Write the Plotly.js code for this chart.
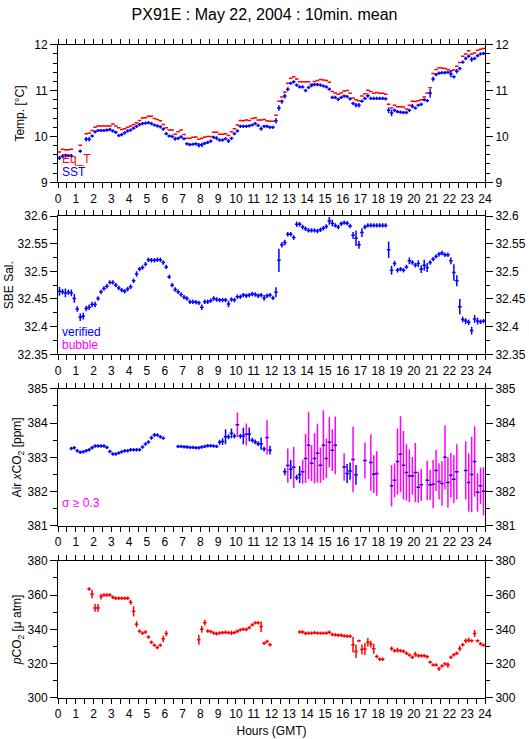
<!DOCTYPE html>
<html><head><meta charset="utf-8">
<script src="https://cdn.plot.ly/plotly-3.0.1.min.js"></script>
<style>html,body{margin:0;padding:0;background:#fff;}#chart{width:529px;height:739px;}</style>
</head><body><div id="chart"></div>
<script>
// ---- 10-minute means, 144 bins per day (value per bin, null = no data) ----
const sst = [
9.53,9.57,9.58,9.58,9.58,null,null,9.68,null,9.94,
9.94,10.01,10.1,10.13,10.13,10.13,10.14,10.15,10.12,10.09,
10.02,10.04,10.08,10.12,10.14,10.18,10.22,10.26,10.28,10.29,
10.3,10.28,10.25,10.23,10.21,10.16,10.06,10.01,10.0,9.95,
9.96,9.99,9.95,9.84,9.82,9.83,9.84,9.81,9.82,9.85,
9.87,9.9,9.98,9.96,9.92,9.92,9.95,9.9,9.96,10.06,
10.12,10.22,10.22,10.22,10.23,10.25,10.28,10.24,10.17,10.22,
10.22,10.2,10.2,10.34,10.62,10.76,10.88,11.03,11.16,11.19,
11.12,11.08,11.08,11.0,11.07,11.11,11.13,11.13,11.12,11.1,
11.08,11.03,10.85,10.85,10.81,10.85,10.88,10.87,10.82,10.72,
10.68,10.68,10.77,10.83,10.89,10.83,10.83,10.83,10.83,10.83,
10.82,10.57,10.51,10.57,10.54,10.53,10.52,10.52,10.57,10.66,
10.62,10.68,10.7,10.8,10.78,10.94,11.25,11.35,11.38,11.39,
11.39,11.4,11.36,11.3,11.42,11.48,11.62,11.7,11.75,11.68,
11.7,11.76,11.8,11.81];
const sstErr = [
.045,.035,.045,.035,.035,null,null,.035,null,.05,
.05,.035,.035,.035,.035,.035,.035,.035,.035,.035,
.035,.035,.035,.035,.035,.035,.035,.035,.035,.035,
.035,.035,.035,.035,.035,.035,.035,.035,.035,.045,
.035,.035,.035,.035,.035,.035,.035,.05,.05,.035,
.035,.035,.035,.045,.035,.035,.035,.045,.035,.035,
.035,.035,.035,.035,.035,.035,.035,.035,.045,.035,
.035,.035,.035,.06,.06,.045,.05,.045,.035,.035,
.035,.035,.035,.035,.035,.035,.035,.035,.035,.035,
.035,.035,.035,.035,.035,.035,.035,.035,.035,.035,
.05,.05,.035,.035,.045,.035,.035,.035,.035,.035,
.035,.06,.07,.035,.035,.035,.035,.035,.035,.045,
.035,.035,.035,.035,.035,.09,.05,.035,.035,.035,
.035,.035,.07,.035,.05,.035,.035,.035,.035,.05,
.035,.035,.035,.035];
const eqT = [
9.66,9.72,9.71,9.71,9.72,null,null,9.81,null,10.06,
10.07,10.13,10.2,10.23,10.23,10.23,10.23,10.23,10.27,10.23,
10.19,10.15,10.17,10.2,10.23,10.26,10.3,10.35,10.4,10.41,
10.44,10.44,10.39,10.37,10.34,10.26,10.19,10.14,10.14,10.05,
10.1,10.14,10.04,9.96,9.96,9.98,9.99,9.94,9.96,9.99,
10.0,10.0,10.09,10.09,10.05,10.05,10.06,10.02,10.1,10.17,
10.25,10.35,10.34,10.36,10.35,10.39,10.41,10.36,10.36,10.37,
10.34,10.33,10.33,10.46,10.77,10.86,10.97,11.16,11.27,11.3,
11.25,11.19,11.19,11.19,11.19,11.14,11.2,11.22,11.24,11.23,
11.22,11.18,10.98,10.95,10.92,10.95,10.99,11.0,10.94,10.84,
10.8,10.78,10.88,10.93,11.01,10.98,10.94,10.96,10.94,10.94,
10.92,10.7,10.62,10.68,10.65,10.65,10.64,10.6,10.68,10.77,
10.76,10.78,10.8,10.86,10.95,11.06,11.37,11.46,11.5,11.49,
11.48,11.46,11.43,11.45,11.53,11.61,11.75,11.8,11.87,11.8,
11.82,11.88,11.9,11.92];
const sal = [
32.464,32.463,32.461,32.462,32.461,32.451,32.432,32.417,32.419,32.433,
32.435,32.44,32.44,32.451,32.463,32.469,32.473,32.48,32.48,32.475,
32.47,32.466,32.464,32.468,32.472,32.483,32.495,32.504,32.507,32.513,
32.521,32.52,32.52,32.521,32.521,32.516,32.508,32.49,32.475,32.467,
32.463,32.458,32.453,32.451,32.445,32.445,32.444,32.443,32.435,32.445,
32.445,32.447,32.451,32.449,32.448,32.448,32.448,32.441,32.449,32.448,
32.454,32.454,32.457,32.456,32.457,32.459,32.458,32.456,32.457,32.452,
32.456,32.457,32.452,32.462,32.52,32.548,32.552,32.567,32.567,32.561,
32.585,32.585,32.58,32.577,32.574,32.574,32.574,32.573,32.575,32.578,
32.581,32.591,32.587,32.583,32.58,32.586,32.588,32.587,32.582,32.565,
32.56,32.548,32.57,32.58,32.583,32.583,32.583,32.583,32.583,32.583,
32.583,32.539,32.502,32.514,32.502,32.504,32.502,32.508,32.519,32.516,
32.511,32.514,32.504,32.511,32.507,32.516,32.522,32.527,32.531,32.533,
32.53,32.53,32.519,32.498,32.483,32.436,32.413,32.41,32.408,32.393,
32.414,32.41,32.409,32.41];
const salErr = [
.008,.005,.008,.005,.006,.008,.005,.007,.006,.005,
.005,.005,.005,.004,.004,.004,.004,.004,.004,.004,
.004,.004,.004,.004,.004,.004,.005,.004,.004,.004,
.004,.004,.004,.004,.004,.004,.004,.004,.004,.004,
.004,.004,.004,.004,.004,.004,.004,.004,.005,.004,
.004,.004,.004,.004,.004,.004,.004,.006,.004,.004,
.004,.004,.004,.004,.004,.004,.004,.004,.004,.005,
.004,.004,.004,.009,.021,.005,.005,.004,.004,.004,
.005,.004,.004,.004,.004,.004,.004,.004,.004,.004,
.004,.007,.006,.004,.004,.004,.004,.004,.004,.006,
.014,.007,.008,.004,.004,.004,.004,.004,.004,.004,
.004,.015,.008,.005,.004,.004,.004,.004,.006,.004,
.004,.006,.007,.01,.008,.004,.004,.004,.004,.004,
.004,.004,.006,.015,.01,.014,.005,.005,.005,.007,
.007,.006,.004,.004];
const xco2 = [
null,null,null,null,383.26,383.28,383.19,383.15,383.16,383.19,
383.22,383.28,383.33,383.33,383.33,383.33,383.29,383.17,383.1,383.1,
383.13,383.16,383.19,383.19,383.22,383.22,383.22,383.22,383.3,383.39,
383.45,383.57,383.65,383.65,383.6,383.56,null,null,null,null,
383.32,383.32,383.31,383.3,383.29,383.29,383.28,383.28,383.3,383.32,
383.34,383.34,383.33,383.32,383.44,383.46,383.6,383.6,383.7,383.62,
383.95,383.62,383.62,383.67,383.67,383.5,383.45,383.4,383.4,383.24,
383.58,383.21,null,null,null,null,382.58,382.76,382.65,382.71,
382.41,382.5,382.58,382.97,383.35,382.83,382.97,383.12,382.77,383.35,
382.97,383.44,383.21,383.35,null,null,382.72,382.53,382.6,382.94,
382.49,null,null,382.91,null,382.85,382.51,382.53,null,null,
null,null,382.17,382.33,382.88,383.09,382.77,382.56,382.46,382.46,
382.56,382.13,382.2,null,382.33,382.2,382.22,382.62,382.3,382.24,
383.0,382.27,382.48,382.36,382.58,null,null,382.62,382.27,382.5,
382.88,381.98,382.17,382.01];
const xco2Sd = [
null,null,null,null,.05,.05,.05,.05,.05,.05,
.05,.05,.05,.05,.05,.05,.05,.05,.05,.05,
.05,.05,.05,.05,.05,.05,.05,.05,.05,.05,
.05,.06,.06,.05,.05,.05,null,null,null,null,
.05,.05,.05,.05,.05,.05,.05,.05,.05,.05,
.05,.05,.05,.05,.07,.1,.22,.07,.14,.07,
.36,.07,.24,.32,.2,.07,.07,.07,.18,.07,
.5,.13,null,null,null,null,.1,.5,.28,.6,
.08,.25,.35,.72,.98,.52,.73,.86,.52,1.02,
.58,.73,.61,.84,null,null,.4,.28,.25,.96,
.29,null,null,.52,null,.82,.55,.65,null,null,
null,null,.6,.5,.96,1.11,1.0,.82,.77,.55,
.86,.45,.47,null,.57,.44,.7,.6,.53,.65,
.93,.73,.65,.7,.8,null,null,.85,.85,1.1,
1.03,.56,.53,.7];
const pco2 = [
null,null,null,null,null,null,null,null,null,null,
363.5,360.6,352.5,352.5,359.1,360,360,360,358.7,358.1,
358.1,358.1,358.1,358.1,355.8,350.5,343,338.9,337.8,338.5,
335.6,332.5,330.8,329.4,330.8,334.5,337.6,null,null,null,
null,null,null,null,null,null,null,333.9,340,343.8,
339.1,338.7,337.9,337.4,337.9,338.1,338.3,338.1,337.9,338.1,
338.9,339.7,340.1,339.9,341,342.6,343.8,343.8,341.6,331.9,
332.9,331,null,null,null,null,null,null,null,null,
null,338.5,338.5,337.6,337.8,337.8,338.1,337.8,337.8,337.8,
337.8,338.3,337,336.8,336.6,336.6,336.2,336,336,331,
327.1,333.3,328.3,328.5,332.5,331.4,328.7,324.2,322.6,322.6,
null,null,328.8,327.5,327.9,327.5,327.3,326.1,325,323.8,
325.5,324.6,324.6,324.6,324,320.9,319.3,319.3,317,318.6,
319.9,319.3,323.8,325.2,326.1,328.8,331,333.3,333.7,333.3,
337.6,333.3,331.6,330.8];
const pco2Sd = [
null,null,null,null,null,null,null,null,null,null,
1,2.5,2.3,2.3,1.7,1,1,1,1,1,
1,1,1,1,1.4,3,1.8,1,1,1,
1,1,1,1,1,1.8,1.6,null,null,null,
null,null,null,null,null,null,null,2.9,1.9,1.6,
1,1,1,1,1,1,1,1,1.4,1,
1,1,1,1,1,1,1,1,3.2,1,
1,1,null,null,null,null,null,null,null,null,
null,1,1,1,1,1,1,1,1,1,
1,1,1,1,1,1,1,1,1,4.5,
3.8,.6,2.9,3.5,2.5,2,2.9,1,1,1,
null,null,1.2,1,1.4,1,1,1,1,1,
1.4,1,1,1,1,1,1,1,1.2,1,
1,1.6,1,1,1,1.6,1,1.4,1.4,1,
2,1,1,1];
const SIGMA_LIMIT = 0.3;
const hourTicks = [0,1,2,3,4,5,6,7,8,9,10,11,12,13,14,15,16,17,18,19,20,21,22,23,24];

// bin centres of the 10-minute means
const BIN = 1/6;
const hours = sst.map((_, i) => (i + 0.5) * BIN);

const FONT = 'Liberation Sans, Arial, Helvetica, sans-serif';
const BLUE = '#0000ff', RED = '#ff0000', MAG = '#ff00ff';
const HALF = 0.1;   // half length of the horizontal arm (h)
const THICK = 1.5;

function cross(y, err, color, xa, ya) {
  return {
    type: 'scatter', mode: 'markers', x: hours, y: y, xaxis: xa, yaxis: ya,
    marker: {size: 1, color: color}, hoverinfo: 'skip', showlegend: false,
    error_x: {type: 'constant', value: HALF, color: color, thickness: THICK, width: 0},
    error_y: err ? {type: 'data', array: err, color: color, thickness: THICK, width: 0, visible: true} : {visible: false}
  };
}
// invisible copy so that the right-hand (mirror) axis is drawn
function ghost(y, xa, ya) {
  return {type: 'scatter', mode: 'markers', x: hours, y: y, xaxis: xa, yaxis: ya,
    marker: {size: 1, opacity: 0}, hoverinfo: 'skip', showlegend: false};
}

const xco2Big = xco2Sd.map(s => (s !== null && s >= SIGMA_LIMIT) ? s : 0);
const xco2Small = xco2Sd.map(s => (s !== null && s < SIGMA_LIMIT) ? s : 0);
const magTrace = {
  type: 'scatter', mode: 'markers', x: hours, y: xco2, xaxis: 'x3', yaxis: 'y3',
  marker: {size: 1, color: MAG}, hoverinfo: 'skip', showlegend: false,
  error_y: {type: 'data', array: xco2Big, color: MAG, thickness: THICK, width: 0}
};

const traces = [
  cross(eqT, null, RED, 'x', 'y'),
  cross(sst, sstErr, BLUE, 'x', 'y'),
  cross(sal, salErr, BLUE, 'x2', 'y2'),
  magTrace,
  cross(xco2, xco2Small, BLUE, 'x3', 'y3'),
  cross(pco2, pco2Sd, RED, 'x4', 'y4'),
  ghost(sst, 'x', 'y5'), ghost(sal, 'x2', 'y6'), ghost(xco2, 'x3', 'y7'), ghost(pco2, 'x4', 'y8')
];

const tickFont = {family: FONT, size: 12, color: '#000'};
function xAxis(anchor, title) {
  const a = {
    anchor: anchor, domain: [0, 1], range: [0, 24], tickvals: hourTicks, ticktext: hourTicks.map(String),
    ticks: 'outside', ticklen: 5, tickwidth: 1, tickcolor: '#000',
    minor: {dtick: 0.5, tick0: 0, ticks: 'outside', ticklen: 5, tickwidth: 1, tickcolor: '#000', showgrid: false},
    showline: true, linecolor: '#000', linewidth: 1, mirror: 'ticks',
    showgrid: false, zeroline: false, tickfont: tickFont, fixedrange: true
  };
  if (title) a.title = {text: title, font: {family: FONT, size: 12, color: '#000'}, standoff: 6};
  return a;
}
function yAxis(anchor, domain, range, dtick, minor, title) {
  return {
    anchor: anchor, domain: domain, range: range, dtick: dtick, tick0: range[0],
    ticks: 'outside', ticklen: 7, tickwidth: 1, tickcolor: '#000',
    minor: {dtick: minor, ticks: 'outside', ticklen: 4, tickwidth: 1, tickcolor: '#000', showgrid: false},
    showline: true, linecolor: '#000', linewidth: 1, mirror: true,
    showgrid: false, zeroline: false, tickfont: tickFont, fixedrange: true,
    title: {text: title, font: {family: FONT, size: 12, color: '#000'}}
  };
}
function yRight(over, anchor, range, dtick, minor) {
  return {
    overlaying: over, anchor: anchor, side: 'right', range: range, dtick: dtick, tick0: range[0],
    ticks: 'outside', ticklen: 7, tickwidth: 1, tickcolor: '#000',
    minor: {dtick: minor, ticks: 'outside', ticklen: 4, tickwidth: 1, tickcolor: '#000', showgrid: false},
    showline: false, showgrid: false, zeroline: false, tickfont: tickFont, fixedrange: true
  };
}

const D1 = [0.7885, 0.9989], D2 = [0.5255, 0.737], D3 = [0.263, 0.4729], D4 = [0, 0.2099];
const R1 = [9, 12], R2 = [32.35, 32.6], R3 = [381, 385], R4 = [300, 380];

function note(text, color, xref, yref, y) {
  return {text: text, xref: xref, yref: yref, x: 0.004, y: y, xanchor: 'left', yanchor: 'middle',
    showarrow: false, font: {family: FONT, size: 12, color: color}};
}

const layout = {
  width: 529, height: 739,
  margin: {l: 58, r: 44, t: 44, b: 41},
  paper_bgcolor: '#fff', plot_bgcolor: '#fff', showlegend: false,
  title: {text: 'PX91E : May 22, 2004 : 10min. mean', x: 0.5, xref: 'container', xanchor: 'center',
    y: 1 - 14 / 739, yref: 'container', yanchor: 'middle', font: {family: FONT, size: 16, color: '#000'}},
  xaxis: xAxis('y'), xaxis2: xAxis('y2'), xaxis3: xAxis('y3'), xaxis4: xAxis('y4', 'Hours (GMT)'),
  yaxis: yAxis('x', D1, R1, 1, 0.2, 'Temp. [°C]'),
  yaxis2: yAxis('x2', D2, R2, 0.05, 0.025, 'SBE Sal.'),
  yaxis3: yAxis('x3', D3, R3, 1, 0.5, 'Air <i>x</i>CO<sub>2</sub> [ppm]'),
  yaxis4: yAxis('x4', D4, R4, 20, 10, '<i>p</i>CO<sub>2</sub> [μ atm]'),
  yaxis5: yRight('y', 'x', R1, 1, 0.2),
  yaxis6: yRight('y2', 'x2', R2, 0.05, 0.025),
  yaxis7: yRight('y3', 'x3', R3, 1, 0.5),
  yaxis8: yRight('y4', 'x4', R4, 20, 10),
  annotations: [
    note('Eq_T', RED, 'x domain', 'y domain', 0.173),
    note('SST', BLUE, 'x domain', 'y domain', 0.075),
    note('verified', BLUE, 'x2 domain', 'y2 domain', 0.161),
    note('bubble', MAG, 'x2 domain', 'y2 domain', 0.064),
    note('σ ≥ 0.3', MAG, 'x3 domain', 'y3 domain', 0.164)
  ]
};

Plotly.newPlot('chart', traces, layout, {staticPlot: true, displayModeBar: false});
</script>
</body></html>
